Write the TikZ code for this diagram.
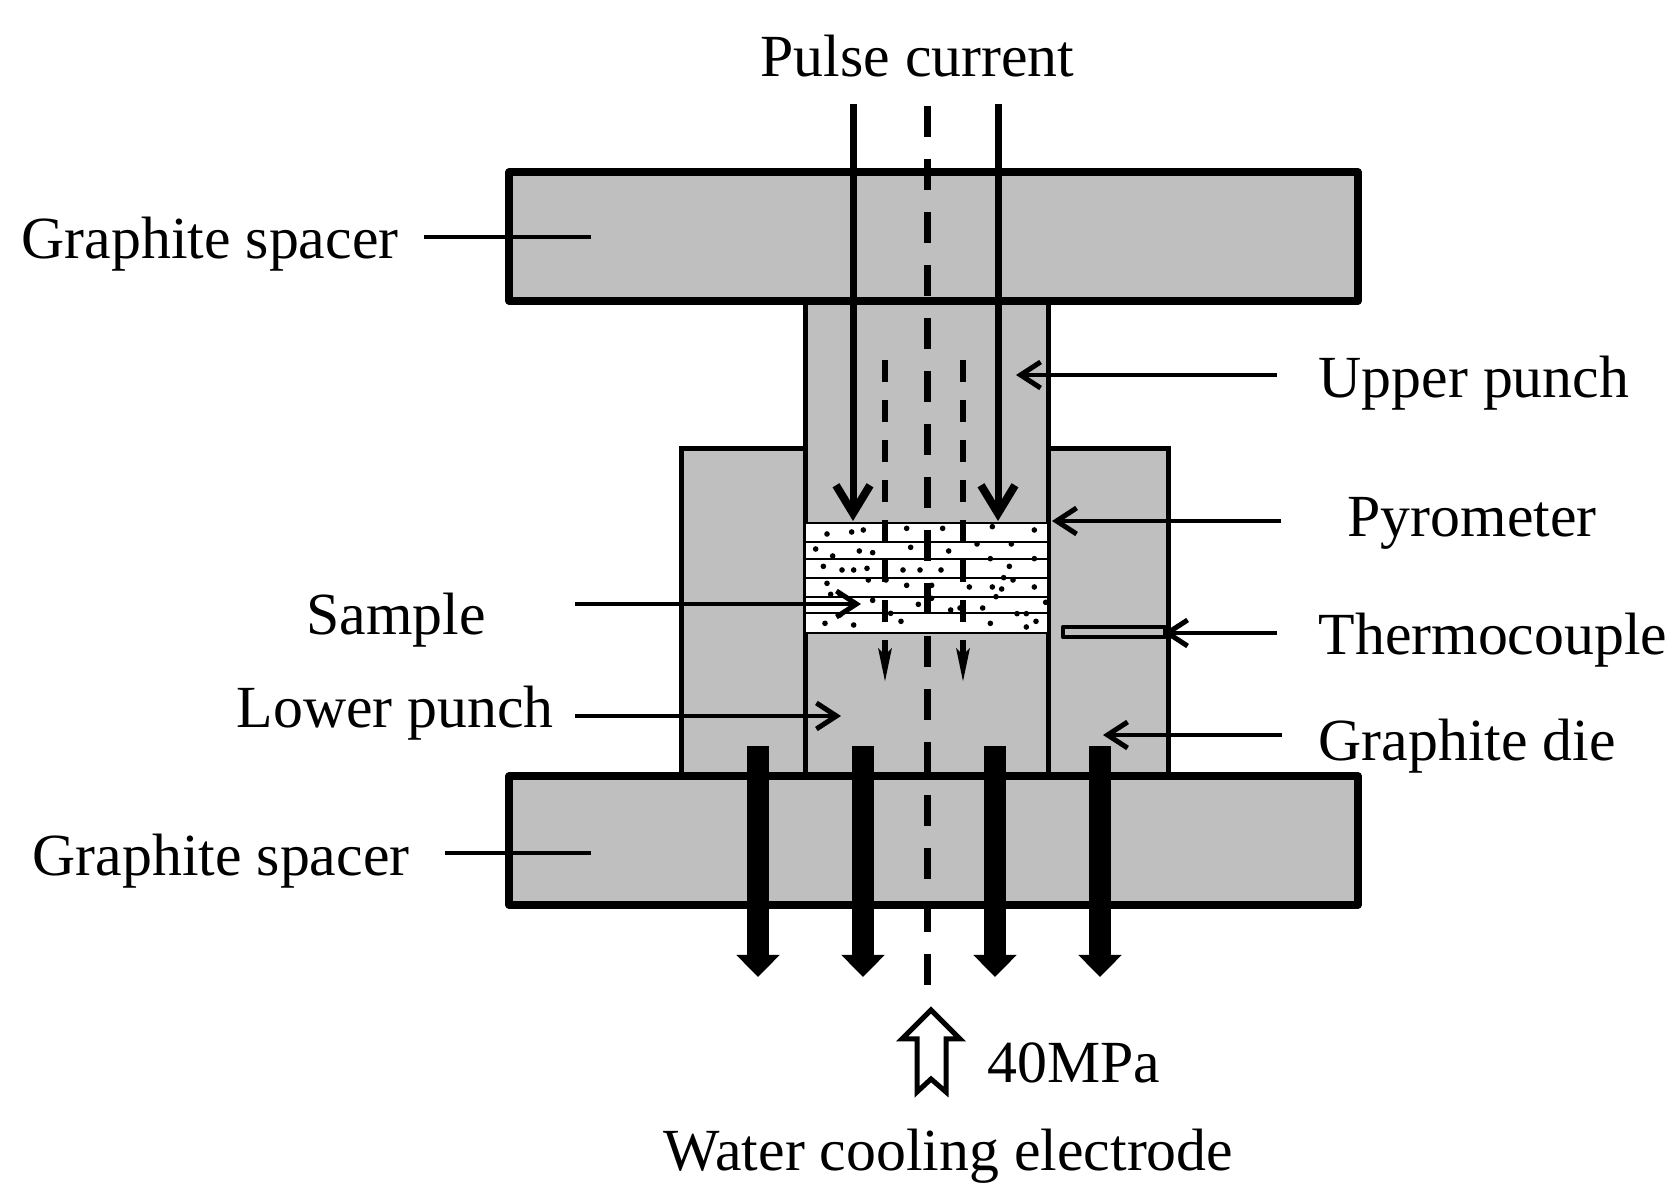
\documentclass[tikz,border=0pt]{standalone}
\usepackage{fontspec}
\setmainfont{Liberation Serif}
\usetikzlibrary{arrows.meta}
\definecolor{graphite}{HTML}{BFBFBF}
\tikzset{
    plate/.style={draw, fill=graphite, line width=0.072cm, line join=round},
    body/.style={draw, fill=graphite, line width=0.05cm},
    layer/.style={draw, fill=white, line width=0.018cm},
    axis/.style={line width=0.07cm, dash pattern=on 0.31cm off 0.22cm},
    current/.style={line width=0.07cm, -{Straight Barb[length=0.28cm, width=0.34cm, line width=0.08cm]}},
    smallcurrent/.style={line width=0.055cm, dash pattern=on 0.22cm off 0.18cm, -{Stealth[length=0.33cm, width=0.13cm, inset=0.06cm]}},
    cooling/.style={line width=0.22cm, -{Triangle[length=0.22cm, width=0.42cm]}},
    callout/.style={line width=0.048cm},
    calloutarrow/.style={callout, -{Straight Barb[length=0.2cm, width=0.26cm, line width=0.05cm]}},
    tag/.style={anchor=base west, inner sep=0pt, font=\fontsize{17}{20}\selectfont},
}
\begin{document}
\begin{tikzpicture}[x=0.01cm, y=-0.01cm]
    \useasboundingbox (0, 0) rectangle (1678, 1192);

    % die, punches, spacers
    \filldraw[body] (681, 776) -- (681, 449) -- (1168, 449) -- (1168, 776) -- cycle;
    \filldraw[body] (805, 301) rectangle (1048, 776);
    \filldraw[plate] (509, 172) rectangle (1358, 301);
    \filldraw[plate] (509, 776) rectangle (1358, 905);

    % sample layers
    \foreach \i/\j in {523/542, 542/559, 559/578, 578/597, 597/613, 613/633} {
        \filldraw[layer] (805, \i) rectangle (1048, \j);
    };
    \foreach \i/\j in {141/162, 215/156, 250/150, 380/145, 488/145, 637/140, 763/150,
                       107/207, 158/228, 238/213, 278/218, 392/202, 506/213, 591/192, 694/192,
                       130/259, 186/270, 221/270, 261/265, 369/270, 420/270, 483/270, 631/236, 763/236, 688/259,
                       141/310, 265/300, 318/300, 380/316, 455/316, 568/321, 637/321, 665/327, 671/293, 699/300, 763/321,
                       152/343, 180/343, 278/361, 415/373, 455/355, 512/390, 540/384, 608/384, 648/350, 797/367,
                       180/405, 332/400, 711/401, 739/401,
                       135/430, 221/435, 363/424, 631/430, 739/441, 768/424} {
        \fill (780+\i/3, 480+\j/3) circle (0.8pt);
    };
    \filldraw[fill=graphite, line width=0.045cm, line join=round] (1063, 627) rectangle (1165, 637);

    % current paths
    \draw[axis] (927, 106) -- (927, 985);
    \foreach \i in {853, 998} {
        \draw[current] (\i, 104) -- (\i, 521);
    };
    \foreach \i in {885, 963} {
        \draw[smallcurrent] (\i, 360) -- (\i, 682);
    };
    \foreach \i in {758, 863, 995, 1100} {
        \draw[cooling] (\i, 746) -- (\i, 977);
    };

    % pressure arrow
    \draw[line width=0.05cm, line join=miter] (931, 1010) -- (960, 1039) -- (946, 1039) -- (946, 1092)
        -- (931, 1079) -- (917, 1092) -- (917, 1039) -- (902, 1039) -- cycle;

    % labels
    \node[tag] (pulselabel) at (760, 77) {Pulse current};
    \node[tag] (spacertoplabel) at (21, 259) {Graphite spacer};
    \node[tag] (spacerlowlabel) at (32, 876) {Graphite spacer};
    \node[tag] (upperlabel) at (1318, 398) {Upper punch};
    \node[tag] (pyrolabel) at (1347, 537) {Pyrometer};
    \node[tag] (thermolabel) at (1318, 655) {Thermocouple};
    \node[tag] (dielabel) at (1318, 761) {Graphite die};
    \node[tag] (samplelabel) at (306, 635) {Sample};
    \node[tag] (lowerlabel) at (236, 728) {Lower punch};
    \node[tag] (pressurelabel) at (987, 1083) {40MPa};
    \node[tag] (waterlabel) at (663, 1171) {Water cooling electrode};

    % callouts
    \coordinate (spacertoptip) at (591, 237);
    \coordinate (spacerlowtip) at (591, 853);
    \coordinate (uppertip) at (1016, 375);
    \coordinate (pyrotip) at (1052, 521);
    \coordinate (thermotip) at (1163, 633);
    \coordinate (dietip) at (1103, 735);
    \coordinate (sampletip) at (861, 604);
    \coordinate (lowertip) at (841, 716);
    \draw[callout, shorten <=0.25cm] (spacertoplabel.east |- spacertoptip) -- (spacertoptip);
    \draw[callout, shorten <=0.35cm] (spacerlowlabel.east |- spacerlowtip) -- (spacerlowtip);
    \draw[calloutarrow, shorten <=0.41cm] (upperlabel.west |- uppertip) -- (uppertip);
    \draw[calloutarrow, shorten <=0.66cm] (pyrolabel.west |- pyrotip) -- (pyrotip);
    \draw[calloutarrow, shorten <=0.41cm] (thermolabel.west |- thermotip) -- (thermotip);
    \draw[calloutarrow, shorten <=0.36cm] (dielabel.west |- dietip) -- (dietip);
    \draw[calloutarrow, shorten <=0.88cm] (samplelabel.east |- sampletip) -- (sampletip);
    \draw[calloutarrow, shorten <=0.21cm] (lowerlabel.east |- lowertip) -- (lowertip);
\end{tikzpicture}
\end{document}
